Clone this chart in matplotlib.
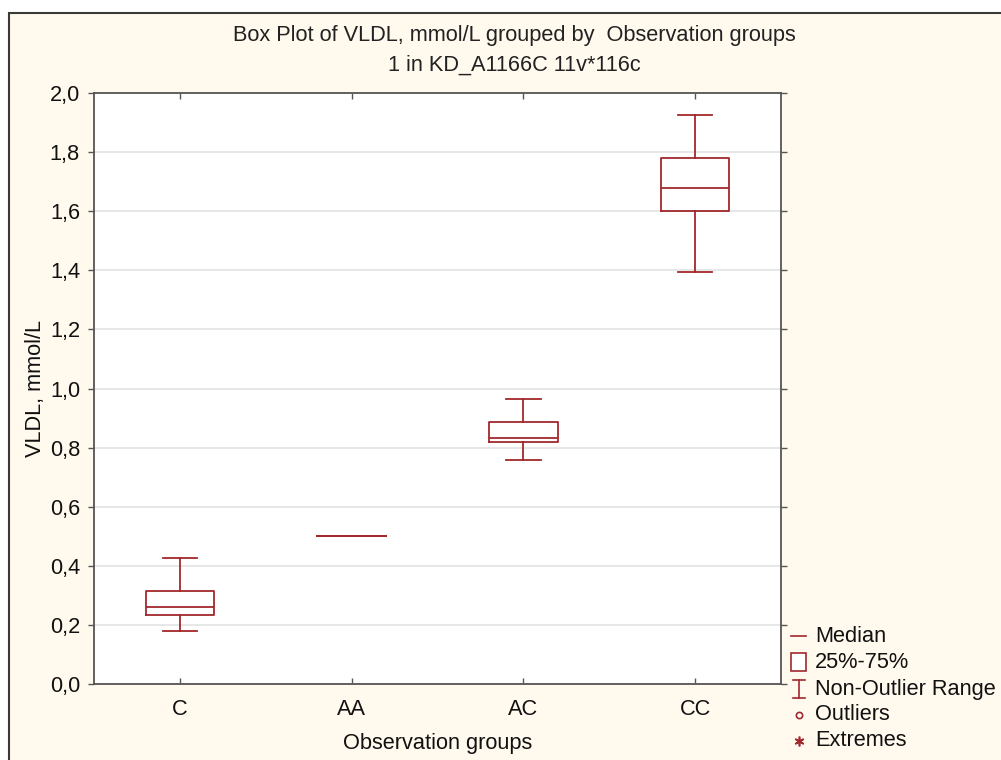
import matplotlib
matplotlib.use("Agg")
import matplotlib.pyplot as plt
from matplotlib.patches import Rectangle
from matplotlib.lines import Line2D

plt.rcParams['font.family'] = ['Liberation Sans', 'DejaVu Sans']

# ---- data ----
groups = ["C", "AA", "AC", "CC"]
q1 = [0.232, 0.50, 0.819, 1.602]
median = [0.259, 0.50, 0.831, 1.680]
q3 = [0.314, 0.50, 0.885, 1.780]
whisker_low = [0.180, 0.50, 0.759, 1.393]
whisker_high = [0.426, 0.50, 0.964, 1.927]
y_ticks = [0.0, 0.2, 0.4, 0.6, 0.8, 1.0, 1.2, 1.4, 1.6, 1.8, 2.0]
y_tick_labels = ["0,0", "0,2", "0,4", "0,6", "0,8", "1,0", "1,2", "1,4", "1,6", "1,8", "2,0"]
legend_labels = ["Median", "25%-75%", "Non-Outlier Range", "Outliers", "Extremes"]

BOX = '#A2282C'
BG = '#FFF9EE'
FS = 15.7
W, H = 1001, 760

fig = plt.figure(figsize=(W / 100, H / 100), dpi=100, facecolor='white')

# panel background with border
bgax = fig.add_axes([0, 0, 1, 1], zorder=-5)
bgax.set_xlim(0, W); bgax.set_ylim(H, 0); bgax.axis('off')
bgax.add_patch(Rectangle((8.5, 12.5), W + 20, H + 20, facecolor=BG,
                         edgecolor='#3a3a3a', linewidth=1.5))

L, R, T, B = 94, 781, 93, 684
ax = fig.add_axes([L / W, 1 - B / H, (R - L) / W, (B - T) / H])
ax.set_facecolor('white')

stats = []
for g, lo, a, m, b, hi in zip(groups, whisker_low, q1, median, q3, whisker_high):
    stats.append(dict(label=g, whislo=lo, q1=a, med=m, q3=b, whishi=hi, fliers=[]))

positions = list(range(1, len(groups) + 1))
lw = 1.3
ax.bxp(stats, positions=positions, widths=0.4, capwidths=0.2, showfliers=False,
       boxprops=dict(color=BOX, linewidth=lw),
       whiskerprops=dict(color=BOX, linewidth=lw),
       capprops=dict(color=BOX, linewidth=lw),
       medianprops=dict(color=BOX, linewidth=lw),
       manage_ticks=False)

ax.set_xlim(0.5, len(groups) + 0.5)
ax.set_ylim(0, 2.0)
ax.set_xticks(positions)
ax.set_xticklabels(groups, fontsize=FS)
ax.set_yticks(y_ticks)
ax.set_yticklabels(y_tick_labels, fontsize=FS)
ax.grid(axis='y', color='#e3e3e3', linewidth=1.2)
ax.set_axisbelow(True)
for s in ax.spines.values():
    s.set_color('#555555')
    s.set_linewidth(1.3)
ax.tick_params(axis='y', direction='out', length=4, width=1, color='#555555', pad=6,
               right=True, labelcolor='#111111')
ax.tick_params(axis='x', direction='in', length=4, width=1, color='#555555', pad=11,
               top=True, labelcolor='#111111')

ax.set_xlabel("Observation groups", fontsize=FS, labelpad=9, color='#111111')
ax.set_ylabel("VLDL, mmol/L", fontsize=FS, labelpad=3, color='#111111')

fig.text(514 / W, 1 - 41.5 / H, "Box Plot of VLDL, mmol/L grouped by  Observation groups",
         ha='center', va='baseline', fontsize=FS, color='#222222')
fig.text(514 / W, 1 - 70.5 / H, "1 in KD_A1166C 11v*116c",
         ha='center', va='baseline', fontsize=FS, color='#222222')

# legend (drawn in pixel coordinates)
lg = fig.add_axes([0, 0, 1, 1], zorder=5)
lg.set_xlim(0, W); lg.set_ylim(H, 0); lg.axis('off')
rows_y = [636, 662, 689, 715, 741]
sx = 799
# median
lg.add_line(Line2D([791, 806], [rows_y[0], rows_y[0]], color=BOX, lw=1.2))
# box
lg.add_patch(Rectangle((791, rows_y[1] - 9), 15, 18, facecolor='white', edgecolor=BOX, lw=1.2))
# non-outlier range
y = rows_y[2]
lg.add_line(Line2D([799, 799], [y - 9, y + 9], color=BOX, lw=1.2))
lg.add_line(Line2D([793, 805], [y - 9, y - 9], color=BOX, lw=1.2))
lg.add_line(Line2D([793, 805], [y + 9, y + 9], color=BOX, lw=1.2))
# outliers
lg.plot([sx], [rows_y[3]], marker='o', ms=4.5, mfc='white', mec=BOX, mew=1.2)
# extremes
lg.plot([sx], [rows_y[4]], marker=(6, 2, 0), ms=7, color=BOX, mew=1.2)
for yy, t in zip(rows_y, legend_labels):
    lg.text(815, yy, t, fontsize=FS, va='center', ha='left', color='#111111')

fig.savefig("out.png", dpi=100, facecolor='white')
